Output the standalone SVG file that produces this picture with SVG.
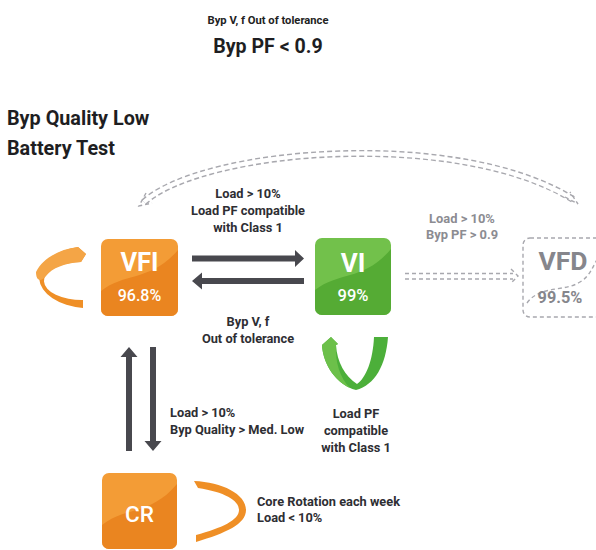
<svg xmlns="http://www.w3.org/2000/svg" width="596" height="550" viewBox="0 0 596 550">
<defs>
<style>
text{font-family:Roboto,"Liberation Sans",sans-serif;font-weight:bold;}
.lbl{font-size:12.8px;fill:#2e2e33;}
.glbl{font-size:12.9px;fill:#8c8c92;}
.big{font-size:19.6px;fill:#1e1e22;}
.head{font-size:19.8px;fill:#1e1e22;}
.boxt{fill:#ffffff;text-anchor:middle;}
.arr{fill:#48484e;}
.dash-o{fill:none;stroke:#a8a8ae;stroke-width:1.4;stroke-dasharray:4 3;}
</style>
<clipPath id="cVFI"><rect x="101" y="239" width="77" height="77" rx="7"/></clipPath>
<clipPath id="cVI"><rect x="315" y="238" width="76" height="77" rx="7"/></clipPath>
<clipPath id="cCR"><rect x="102" y="473" width="75" height="76" rx="7"/></clipPath>
</defs>
<rect width="596" height="550" fill="#ffffff"/>

<g id="titles">
<text x="268" y="24" text-anchor="middle" style="font-size:11.2px;fill:#222">Byp V, f Out of tolerance</text>
<text class="big" x="268" y="53" text-anchor="middle">Byp PF &lt; 0.9</text>
<text class="head" x="7" y="125">Byp Quality Low</text>
<text class="head" x="7" y="155">Battery Test</text>
</g>

<g id="connectors">
<!-- top dashed double arc VFD -> VFI -->
<path d="M144,202 C205,148 460,128 574,200" fill="none" stroke="#a8a8ae" stroke-width="7" stroke-dasharray="5 3"/>
<path d="M144,202 C205,148 460,128 574,200" fill="none" stroke="#ffffff" stroke-width="4.2"/>
<path class="dash-o" d="M146,193 L139,206 L152,203"/>
<path class="dash-o" d="M565,197 L578,204 L570,192"/>
<!-- VI -> VFD dashed double arrow -->
<path d="M405,273.5 L513,273.5 M405,279 L513,279" fill="none" stroke="#a8a8ae" stroke-width="1.4" stroke-dasharray="4 3"/>
<path class="dash-o" d="M511,269 L518,276 L511,283"/>
<!-- VFI <-> VI -->
<path class="arr" d="M192,255.5 H295 V250 L304,258.5 L295,267 V261.5 H192 Z"/>
<path class="arr" d="M304,278 H202 V272.5 L192,281 L202,289.5 V284 H304 Z"/>
<!-- VFI <-> CR -->
<path class="arr" d="M126,451 V357 H120.5 L129,347 L137.5,357 H132 V451 Z"/>
<path class="arr" d="M150,347 V441 H144.5 L153,451 L161.5,441 H156 V347 Z"/>
<!-- self loops -->
<path d="M78,247 L86,254 L81,262 A38,19 0 0 0 83,300 L83,308 A50,31 0 0 1 78,247 Z" fill="#ef8f26"/>
<path d="M78,247 L86,254 L81,262 C65,263 52,268 46,276 C40,283 36,280 36,272 C43,258 60,249 78,247 Z" fill="#f4a546"/>
<path d="M331,337 L322,345 C323,365 337,385 356,390 C375,385 386,365 388,337 L374,337 C373,360 366,378 357,384 C345,376 337,362 336,345 L338,344 Z" fill="#4caf3a"/>
<path d="M331,337 L322,345 C323,362 333,380 350,388 C340,378 335,362 336,345 L338,344 Z" fill="#6cc04a"/>
<path d="M194,481 L198,488 C224,492 239,500 239,510 C239,520 222,528 196,535 L196,542 C226,533 246,524 246,510 C246,494 222,482 194,481 Z" fill="#ef8f26"/>
</g>

<g id="node-VFI">
<g clip-path="url(#cVFI)">
<rect x="101" y="239" width="77" height="77" fill="#f39c36"/>
<path d="M101,291 C125,272 150,282 178,250 V316 H101 Z" fill="#ea8520"/>
</g>
<text class="boxt" x="139.5" y="271" font-size="25.5">VFI</text>
<text class="boxt" x="139.5" y="301" font-size="16" style="font-weight:500">96.8%</text>
</g>

<g id="node-VI">
<g clip-path="url(#cVI)">
<rect x="315" y="238" width="76" height="77" fill="#72c14b"/>
<path d="M315,290 C340,271 364,281 391,249 V315 H315 Z" fill="#55ab34"/>
</g>
<text class="boxt" x="353" y="272" font-size="26">VI</text>
<text class="boxt" x="353" y="301" font-size="16.5" style="font-weight:500">99%</text>
</g>

<g id="node-VFD">
<rect x="523" y="238" width="86" height="79" rx="7" class="dash-o"/>
<path class="dash-o" d="M527,303 C540,285 565,292 580,282 C590,276 592,268 598,258"/>
<text x="563" y="270" font-size="26.5" fill="#86868c" text-anchor="middle">VFD</text>
<text x="560" y="303" font-size="16.3" fill="#86868c" text-anchor="middle">99.5%</text>
</g>

<g id="node-CR">
<g clip-path="url(#cCR)">
<rect x="102" y="473" width="75" height="76" fill="#f39c36"/>
<path d="M102,525 C126,506 150,516 177,484 V549 H102 Z" fill="#ea8520"/>
</g>
<text class="boxt" x="139.5" y="522" font-size="22.5" style="font-weight:500">CR</text>
</g>

<g id="labels">
<text class="lbl" x="248" y="198" text-anchor="middle">Load &gt; 10%</text>
<text class="lbl" x="248" y="215" text-anchor="middle">Load PF compatible</text>
<text class="lbl" x="248" y="232" text-anchor="middle">with Class 1</text>
<text class="lbl" x="248" y="326" text-anchor="middle">Byp V, f</text>
<text class="lbl" x="248" y="343" text-anchor="middle">Out of tolerance</text>
<text class="glbl" x="462" y="223" text-anchor="middle">Load &gt; 10%</text>
<text class="glbl" x="462" y="239" text-anchor="middle">Byp PF &gt; 0.9</text>
<text class="lbl" x="170" y="417">Load &gt; 10%</text>
<text class="lbl" x="170" y="434">Byp Quality &gt; Med. Low</text>
<text class="lbl" x="356" y="418" text-anchor="middle">Load PF</text>
<text class="lbl" x="356" y="435" text-anchor="middle">compatible</text>
<text class="lbl" x="356" y="452" text-anchor="middle">with Class 1</text>
<text class="lbl" x="257" y="506">Core Rotation each week</text>
<text class="lbl" x="257" y="522">Load &lt; 10%</text>
</g>
</svg>
